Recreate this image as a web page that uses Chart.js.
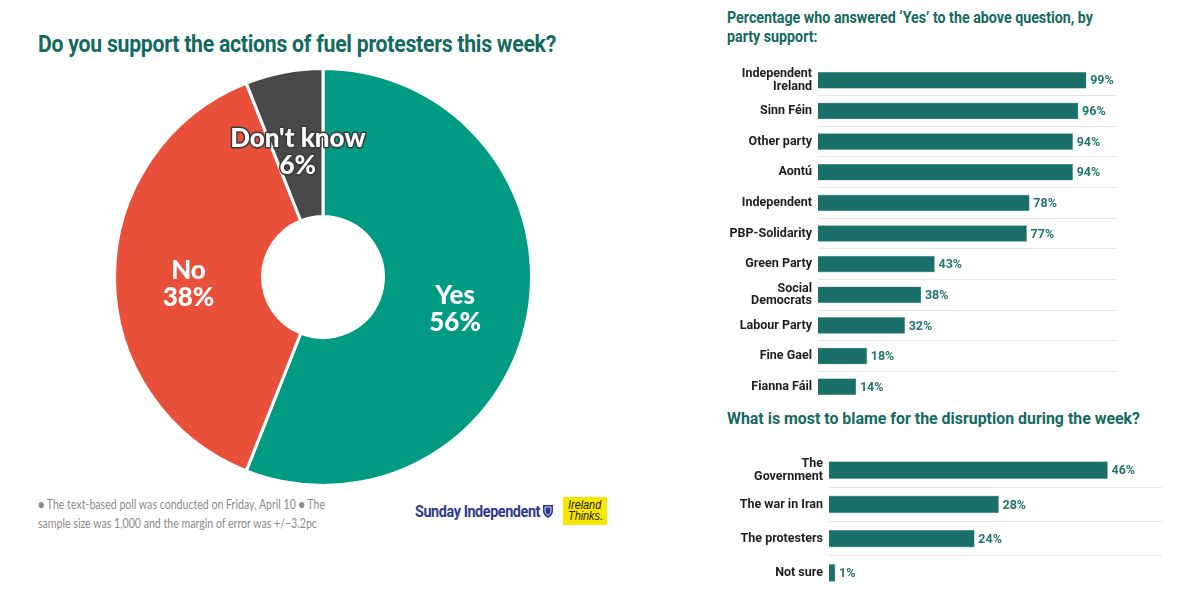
<!DOCTYPE html>
<html>
<head>
<meta charset="utf-8">
<script src="https://cdn.jsdelivr.net/npm/chart.js@4.4.1/dist/chart.umd.min.js"></script>
<style>
  html, body { margin: 0; padding: 0; background: #fff; }
  body { width: 1200px; height: 600px; position: relative; overflow: hidden; }
  .abs { position: absolute; }
  .fit { white-space: nowrap; display: inline-block; transform-origin: left top; }
  .head { font-family: Roboto, 'Noto Sans', sans-serif; font-weight: 700; color: #156a5f; }
  #t-main { left: 38px; top: 31px; font-size: 23px; letter-spacing: -0.3px; }
  #t-party { left: 727px; top: 8px; font-size: 16px; line-height: 19px; }
  #t-blame { left: 727px; top: 409px; font-size: 16px; }
  #note { left: 38px; top: 495px; font-family: Lato, 'Open Sans', sans-serif; font-size: 13px; line-height: 19px; color: #8b8b8b; }
  #sunday { left: 415px; top: 501px; font-family: Roboto, sans-serif; font-size: 17px; font-weight: 700; color: #2c3b8f; letter-spacing: -0.5px; }
  #shield { left: 543px; top: 505px; }
  #thinks { left: 563px; top: 497px; width: 44px; height: 28px; background: #f7e600; }
  #thinks span { position: absolute; left: 5px; top: 3px; font-family: 'Liberation Sans', sans-serif; font-style: italic; font-size: 12px; line-height: 11px; color: #222; }
  canvas { display: block; }
</style>
</head>
<body>
<div id="t-main" class="abs fit head" data-w="518">Do you support the actions of fuel protesters this week?</div>
<div id="t-party" class="abs fit head" data-w="366">Percentage who answered ‘Yes’ to the above question, by<br>party support:</div>
<div id="t-blame" class="abs fit head" data-w="413">What is most to blame for the disruption during the week?</div>

<div class="abs" style="left:113px;top:67px;width:420px;height:420px;"><canvas id="ch-support"></canvas></div>
<div class="abs" style="left:720px;top:65px;width:450px;height:337px;"><canvas id="ch-party"></canvas></div>
<div class="abs" style="left:720px;top:453px;width:450px;height:137px;"><canvas id="ch-blame"></canvas></div>

<div id="note" class="abs fit" data-w="287">● The text-based poll was conducted on Friday, April 10 ● The<br>sample size was 1,000 and the margin of error was +/−3.2pc</div>
<div id="sunday" class="abs fit" data-w="125">Sunday Independent</div>
<svg id="shield" class="abs" width="10" height="13" viewBox="0 0 10 13"><path d="M0 0H10V6C10 9.5 7 12 5 13C3 12 0 9.5 0 6Z" fill="#2c3b8f"/><path d="M2 2H8V6C8 8 6.5 9.5 5 10.5C3.5 9.5 2 8 2 6Z" fill="none" stroke="#fff" stroke-width="0.8"/></svg>
<div id="thinks" class="abs"><span class="fit" data-w="35">Ireland<br>Thinks.</span></div>

<script>
  // ---- datos ----
  const supportLabels = ['Yes', 'No', "Don't know"];
  const supportValues = [56, 38, 6];
  const supportColors = ['#009b82', '#e8503a', '#484848'];

  const partyLabels = [
    ['Independent', 'Ireland'], 'Sinn Féin', 'Other party', 'Aontú', 'Independent',
    'PBP-Solidarity', 'Green Party', ['Social', 'Democrats'], 'Labour Party', 'Fine Gael', 'Fianna Fáil',
  ];
  const partyValues = [99, 96, 94, 94, 78, 77, 43, 38, 32, 18, 14];

  const blameLabels = [['The', 'Government'], 'The war in Iran', 'The protesters', 'Not sure'];
  const blameValues = [46, 28, 24, 1];

  const barColor = '#1b6f69';
  const valueColor = '#23766c';
  const sepColor = '#e6e6e6';
  const tickFont = "Roboto, 'Noto Sans', sans-serif";

  // ajusta el ancho de los textos HTML (la fuente original es condensada)
  document.querySelectorAll('.fit').forEach(el => {
    const w = el.getBoundingClientRect().width;
    el.style.transform = 'scaleX(' + (Number(el.dataset.w) / w) + ')';
  });

  // etiquetas dentro del donut
  const arcLabels = {
    id: 'arcLabels',
    afterDatasetsDraw(chart) {
      const { ctx } = chart;
      const meta = chart.getDatasetMeta(0);
      ctx.save();
      ctx.font = "900 26px Lato, 'Open Sans', sans-serif";
      ctx.textAlign = 'center';
      ctx.textBaseline = 'middle';
      ctx.lineJoin = 'round';
      meta.data.forEach((arc, i) => {
        const p = arc.tooltipPosition();
        const lines = [supportLabels[i], supportValues[i] + '%'];
        lines.forEach((txt, j) => {
          const y = p.y + 7 + (j === 0 ? -13.5 : 13.5);
          if (i === 2) {
            ctx.strokeStyle = '#3a3a3a';
            ctx.lineWidth = 3;
            ctx.strokeText(txt, p.x, y);
          }
          ctx.fillStyle = '#fff';
          ctx.fillText(txt, p.x, y);
        });
      });
      ctx.restore();
    },
  };

  // valor al final de cada barra
  const barValues = {
    id: 'barValues',
    afterDatasetsDraw(chart) {
      const { ctx } = chart;
      const meta = chart.getDatasetMeta(0);
      const data = chart.data.datasets[0].data;
      ctx.save();
      ctx.font = '700 12.5px ' + tickFont;
      ctx.fillStyle = valueColor;
      ctx.textAlign = 'left';
      ctx.textBaseline = 'middle';
      meta.data.forEach((bar, i) => {
        ctx.fillText(data[i] + '%', bar.x + 4, bar.y + 1);
      });
      ctx.restore();
    },
  };

  new Chart(document.getElementById('ch-support'), {
    type: 'doughnut',
    data: {
      labels: supportLabels,
      datasets: [{
        data: supportValues,
        backgroundColor: supportColors,
        borderColor: '#fff',
        borderWidth: 3,
      }],
    },
    options: {
      responsive: true, maintainAspectRatio: false,
      animation: false,
      cutout: '29%',
      rotation: 0,
      plugins: { legend: { display: false }, tooltip: { enabled: false } },
    },
    plugins: [arcLabels],
  });

  function hbar(id, labels, values, max, axisWidth, padRight, thickness) {
    return new Chart(document.getElementById(id), {
      type: 'bar',
      data: {
        labels: labels,
        datasets: [{
          data: values,
          backgroundColor: barColor,
          borderColor: '#7fb3ad',
          borderWidth: 0.6,
          barThickness: thickness,
        }],
      },
      options: {
        indexAxis: 'y',
        responsive: true, maintainAspectRatio: false,
        animation: false,
        layout: { padding: { top: 0, bottom: 0, left: 0, right: padRight } },
        plugins: { legend: { display: false }, tooltip: { enabled: false } },
        scales: {
          x: { display: false, min: 0, max: max },
          y: {
            border: { display: false },
            grid: {
              offset: true,
              drawTicks: false,
              lineWidth: 1,
              // solo separadores entre filas, sin línea arriba ni abajo
              color: ctx => (ctx.index === undefined || ctx.index === 0) ? 'rgba(0,0,0,0)' : sepColor,
            },
            ticks: {
              color: '#1e1e1e',
              padding: 6,
              font: { family: tickFont, size: 12.5, weight: '700', lineHeight: 1.0 },
            },
            afterFit: scale => {
              scale.width = axisWidth;
              scale.paddingTop = 0;
              scale.paddingBottom = 0;
            },
          },
        },
      },
      plugins: [barValues],
    });
  }

  hbar('ch-party', partyLabels, partyValues, 110, 98, 54, 16);
  hbar('ch-blame', blameLabels, blameValues, 55, 109, 8, 17);
</script>
</body>
</html>
